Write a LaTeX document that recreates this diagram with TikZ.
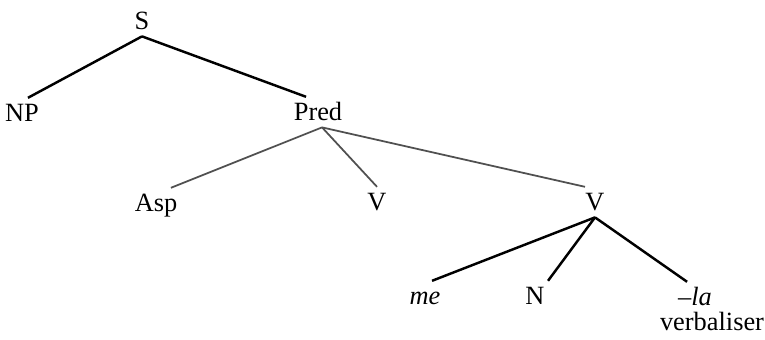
\documentclass[tikz,border=0pt]{standalone}
\usepackage{fontspec}
\setmainfont{Liberation Serif}
\usepackage{tikz}
\definecolor{branchgrey}{RGB}{80, 80, 80}

\begin{document}
\begin{tikzpicture}[
    cat/.style={anchor=base, inner xsep=2pt, inner ysep=3pt, text height=10pt, text depth=1pt, font=\fontsize{15}{18}\selectfont},
    gloss/.style={anchor=base, inner sep=0pt, font=\fontsize{15}{18}\selectfont},
    edge/.style={line width=1.4pt, black},
    greyedge/.style={line width=1pt, branchgrey}
]
\useasboundingbox (0,0) rectangle (15.3,-6.78);

\node[cat] (s) at (2.84,-0.58) {S};
\node[cat] (np) at (0.44,-2.42) {NP};
\node[cat] (pred) at (6.36,-2.40) {Pred};
\node[cat] (asp) at (3.12,-4.22) {Asp};
\node[cat] (v1) at (7.54,-4.20) {V};
\node[cat] (v2) at (11.90,-4.20) {V};
\node[cat] (me) at (8.50,-6.08) {\textit{me}};
\node[cat] (n) at (10.70,-6.08) {N};
\node[cat, text depth=0pt] (la) at (13.90,-6.10) {\textit{--la}};
\node[gloss] (verb) at (14.24,-6.60) {verbaliser};

\draw[edge] (s.south) -- ([xshift=3.4pt]np.north);
\draw[edge] (s.south) -- ([xshift=-6.8pt]pred.north);
\draw[greyedge] ([xshift=2.3pt]pred.south) -- ([xshift=8.5pt]asp.north);
\draw[greyedge] ([xshift=2.3pt]pred.south) -- (v1.north);
\draw[greyedge] ([xshift=2.3pt]pred.south) -- ([xshift=-5.7pt]v2.north);
\draw[edge] (v2.south) -- ([xshift=4pt]me.north);
\draw[edge] (v2.south) -- ([xshift=7.4pt]n.north);
\draw[edge] (v2.south) -- ([xshift=-4.5pt]la.north);
\end{tikzpicture}
\end{document}
